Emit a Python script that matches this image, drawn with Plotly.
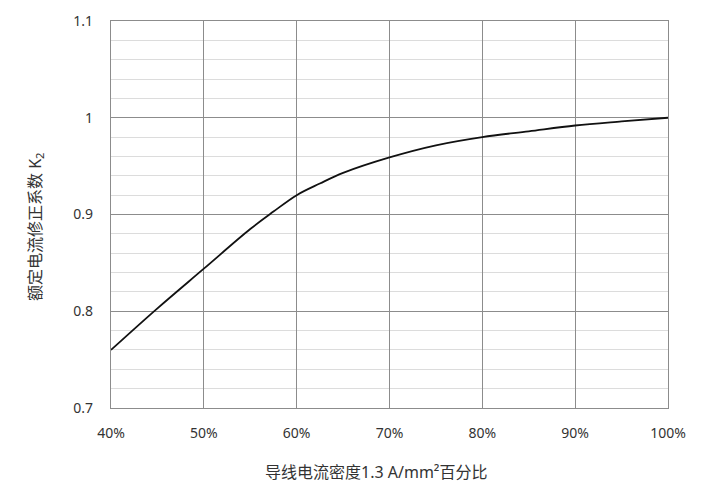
import plotly.graph_objects as go

# data
density_pct = [40, 45, 50, 55, 57.5, 60, 62.5, 65, 70, 75, 80, 85, 90, 95, 100]
k2_factor = [0.76, 0.803, 0.844, 0.885, 0.903, 0.92, 0.932, 0.943, 0.959, 0.9715,
             0.98, 0.986, 0.992, 0.9962, 1.0]

x_ticks = [40, 50, 60, 70, 80, 90, 100]
x_tick_labels = ["40%", "50%", "60%", "70%", "80%", "90%", "100%"]
y_ticks = [0.7, 0.8, 0.9, 1.0, 1.1]
y_tick_labels = ["0.7", "0.8", "0.9", "1", "1.1"]

x_title = "导线电流密度1.3 A/mm²百分比"
y_title = "额定电流修正系数 K<sub>2</sub>"

FONT = "Noto Sans, Noto Sans CJK SC, sans-serif"
MAJOR = "#8c8c8c"
MINOR = "#dcdcdc"

fig = go.Figure()
fig.add_trace(go.Scatter(
    x=density_pct, y=k2_factor, mode="lines",
    line=dict(color="#111111", width=1.8, shape="spline", smoothing=1.0),
    hoverinfo="skip", showlegend=False,
))

W, H = 710, 490
L, T = 103, 13
pw, ph = 557, 387
R, B = W - L - pw, H - T - ph

# page positions (reference pixels) of the plot area
PL, PB = 111, 408

fig.update_layout(
    width=W, height=H,
    margin=dict(l=L, r=R, t=T, b=B, autoexpand=False),
    paper_bgcolor="white", plot_bgcolor="white",
    font=dict(family=FONT, size=14, color="#333333"),
    xaxis=dict(
        range=[40, 100], tickvals=x_ticks, ticktext=x_tick_labels,
        showgrid=True, gridcolor=MAJOR, gridwidth=1.3,
        showline=True, linecolor=MAJOR, linewidth=1.3, mirror=True,
        zeroline=False, ticks="", ticklabelstandoff=12, automargin=False,
        tickfont=dict(size=14, color="#333333"),
    ),
    yaxis=dict(
        range=[0.7, 1.1], tickvals=y_ticks, ticktext=y_tick_labels,
        showgrid=True, gridcolor=MAJOR, gridwidth=1.3,
        minor=dict(dtick=0.02, showgrid=True, gridcolor=MINOR, gridwidth=1.3, ticks=""),
        showline=True, linecolor=MAJOR, linewidth=1.3, mirror=True,
        zeroline=False, ticks="", ticklabelstandoff=14, automargin=False,
        tickfont=dict(size=14, color="#333333"),
    ),
    annotations=[
        dict(text=x_title, xref="paper", yref="paper",
             x=(376 - PL) / pw, y=(PB - 472) / ph, showarrow=False,
             xanchor="center", yanchor="middle",
             font=dict(size=16, color="#333333", family=FONT)),
        dict(text=y_title, xref="paper", yref="paper",
             x=(35 - PL) / pw, y=(PB - 227) / ph, showarrow=False, textangle=-90,
             xanchor="center", yanchor="middle",
             font=dict(size=16, color="#333333", family=FONT)),
    ],
)

fig.write_html("out.html")
